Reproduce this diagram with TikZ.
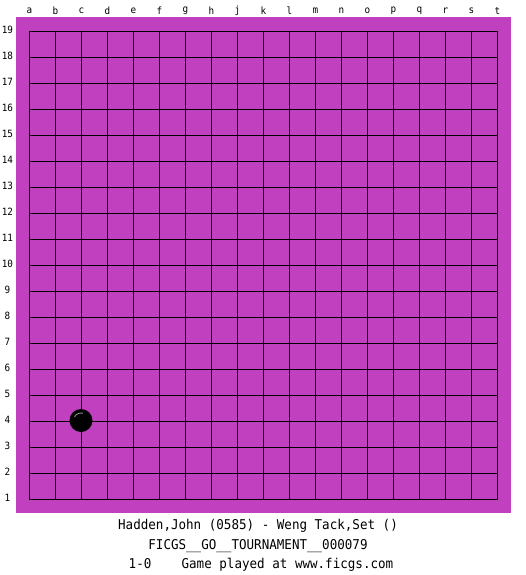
\documentclass[tikz,border=0pt]{standalone}
\usepackage{fontspec}
\newfontfamily\boardmono[FakeStretch=0.93]{DejaVu Sans Mono}
\usetikzlibrary{positioning}
\definecolor{BoardMagenta}{RGB}{192,64,192}
\definecolor{StoneShine}{RGB}{140,140,140}
\tikzset{
  gridline/.style={draw=black,line width=1pt},
  coordlabel/.style={font=\boardmono\fontsize{10}{10}\selectfont,inner sep=0pt},
  infoline/.style={font=\boardmono\fontsize{13.5}{13.5}\selectfont,inner sep=0pt,anchor=base},
  blackstone/.style={circle,fill=black,minimum size=23pt,inner sep=0pt}
}

\begin{document}
\begin{tikzpicture}[x=1pt,y=-1pt]
\useasboundingbox (0,0) rectangle (525,575);
\fill[white] (0,0) rectangle (525,575);
\fill[BoardMagenta] (16,17) rectangle (511,513);
\foreach \i in {0,...,18} {
  \draw[gridline] (29.5+26*\i,31.5) -- (29.5+26*\i,499.5);
  \draw[gridline] (29.5,31.5+26*\i) -- (497.5,31.5+26*\i);
}
\foreach \col [count=\i from 0] in {a,b,c,d,e,f,g,h,j,k,l,m,n,o,p,q,r,s,t}
  \node[coordlabel] (col-\col) at (29.5+26*\i,11) {\col};
\foreach \i in {0,...,18} {
  \pgfmathtruncatemacro\rownum{19-\i}
  \node[coordlabel] (row-\rownum) at (7.5,29.5+26*\i) {\rownum};
}

\node[blackstone] (stone-c4) at (81,420.5) {};
\draw[StoneShine,line width=0.9pt,shift={(stone-c4.center)},x=1pt,y=1pt] (150:7.5) arc[start angle=150,end angle=75,radius=7.5];

\node[infoline] (players) at (258,529.5) {Hadden,John (0585) - Weng Tack,Set ()};
\node[infoline] (event) at (258,549) {FICGS\_\_GO\_\_TOURNAMENT\_\_000079};
\node[infoline] (result) at (261,568.5) {1-0\ \ \ \ Game played at www.ficgs.com};
\end{tikzpicture}
\end{document}
